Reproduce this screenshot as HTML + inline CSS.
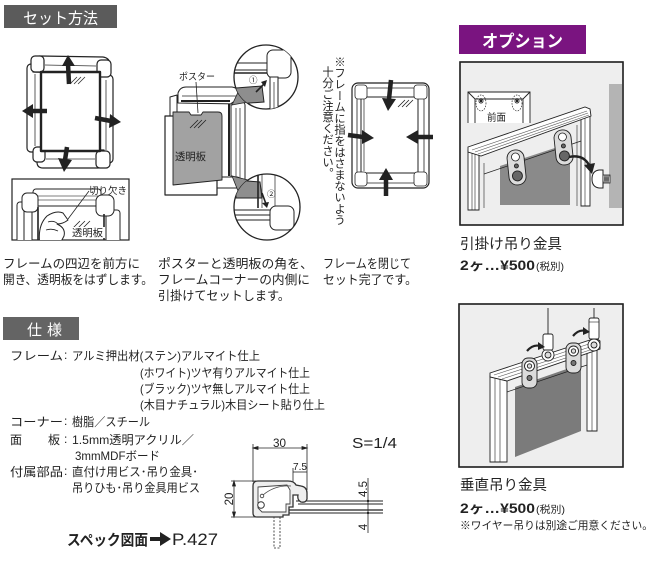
<!DOCTYPE html>
<html><head><meta charset="utf-8">
<style>
html,body{margin:0;padding:0;background:#fff;}
body{width:658px;height:562px;position:relative;overflow:hidden;font-family:"Liberation Sans","Noto Sans CJK JP",sans-serif;}
svg{position:absolute;left:0;top:0;}
.v{position:absolute;writing-mode:vertical-rl;font-size:11.3px;line-height:12px;color:#222;font-family:"Liberation Sans","Noto Sans CJK JP",sans-serif;white-space:nowrap;}
</style></head><body>
<svg width="658" height="562" viewBox="0 0 658 562" font-family="'Liberation Sans','Noto Sans CJK JP',sans-serif">
<defs>
 <clipPath id="c1"><rect x="12" y="179" width="117" height="61"/></clipPath>
 <clipPath id="c2"><rect x="460" y="62" width="163" height="163"/></clipPath>
 <clipPath id="c3"><rect x="459" y="304" width="164" height="163"/></clipPath>
 <clipPath id="ct"><circle cx="266" cy="77" r="32"/></clipPath>
 <clipPath id="cb"><circle cx="267" cy="207" r="33"/></clipPath>
</defs>

<!-- Headers -->
<rect x="4" y="5" width="113" height="23" fill="#5b5b5b"/>
<text x="23" y="23.5" font-size="15.5" fill="#fff" textLength="75" lengthAdjust="spacingAndGlyphs">セット方法</text>
<rect x="459" y="25" width="127" height="29" fill="#7a1480"/>
<text x="482" y="47" font-size="17" font-weight="bold" fill="#fff" textLength="81" lengthAdjust="spacingAndGlyphs">オプション</text>
<rect x="3" y="317" width="76" height="23" fill="#646464"/>
<text x="27" y="335" font-size="15" fill="#fff">仕</text>
<text x="47" y="335" font-size="15" fill="#fff">様</text>

<!-- ===== Frame 1 ===== -->
<g stroke="#222" fill="#fff" stroke-width="1.2" stroke-linejoin="round">
 <rect x="27" y="64" width="14" height="88" rx="4"/>
 <rect x="99" y="75" width="14" height="88" rx="4"/>
 <path d="M33,72 L33,62 Q33,56 40,56 L103,57 Q110,58 110,65 L110,74 Z"/>
 <path d="M37,150 L104,150 L104,162 Q104,168 98,168 L43,168 Q37,168 37,162 Z"/>
 <rect x="31" y="56" width="13" height="16" rx="4"/>
 <rect x="97" y="60" width="14" height="17" rx="4"/>
 <rect x="33" y="147" width="12" height="15" rx="4"/>
 <rect x="96" y="151" width="14" height="17" rx="4"/>
 <rect x="41" y="72" width="59" height="79" stroke-width="2.4"/>
</g>
<g stroke="#333" stroke-width="0.8" fill="none">
 <line x1="35" y1="74" x2="35" y2="146"/>
 <line x1="106" y1="80" x2="106" y2="150"/>
 <line x1="45" y1="65" x2="96" y2="66"/>
 <line x1="46" y1="159" x2="95" y2="159"/>
 <path d="M70,84 l7,-7 M74,84 l7,-7 M78,84 l7,-7"/>
</g>
<g fill="#222" stroke="#222">
 <line x1="69" y1="84" x2="68" y2="64" stroke-width="4.5"/>
 <polygon points="62,66 75,66 68,55" stroke="none"/>
 <line x1="47" y1="111" x2="32" y2="111" stroke-width="4.5"/>
 <polygon points="33,104 33,118 22,111" stroke="none"/>
 <line x1="95" y1="118" x2="111" y2="121" stroke-width="4.5"/>
 <polygon points="110,114 109,128 121,122" stroke="none"/>
 <line x1="67" y1="147" x2="65" y2="160" stroke-width="4.5"/>
 <polygon points="58,158 72,160 64,172" stroke="none"/>
</g>

<!-- Inset box -->
<rect x="12" y="179" width="117" height="61" fill="#fff" stroke="#222" stroke-width="1.2"/>
<g clip-path="url(#c1)" stroke="#222" stroke-width="1" fill="#fff" stroke-linejoin="round">
 <rect x="17" y="202" width="15" height="45" rx="3"/>
 <line x1="24" y1="206" x2="24" y2="245"/>
 <rect x="33" y="189" width="68" height="17" rx="3"/>
 <line x1="36" y1="196" x2="99" y2="196" stroke="#555" stroke-width="0.7"/>
 <line x1="36" y1="200" x2="99" y2="200" stroke="#555" stroke-width="0.7"/>
 <rect x="22" y="193" width="16" height="19" rx="5"/>
 <rect x="106" y="210" width="14" height="40" rx="3"/>
 <rect x="96" y="195" width="18" height="21" rx="6"/>
 <line x1="38" y1="207" x2="38" y2="245" stroke-width="1.6"/>
 <line x1="104" y1="214" x2="104" y2="245" stroke-width="1.6"/>
 <path d="M40,245 Q37,226 47,216 Q56,210 63,213 L68,220 Q63,224 57,224 Q66,228 64,236 Q60,244 58,245 Z"/>
 <path d="M48,222 Q54,220 58,224 M46,230 Q52,228 58,231" fill="none" stroke-width="0.8"/>
 <path d="M72,229 l8,-8 M77,229 l8,-8 M82,229 l8,-8" fill="none" stroke-width="0.8"/>
 <line x1="89" y1="191" x2="68" y2="219" stroke-width="0.8"/>
</g>
<text x="89" y="194" font-size="9.5" fill="#222" textLength="38" lengthAdjust="spacingAndGlyphs">切り欠き</text>
<rect x="71" y="227" width="34" height="11" fill="#fff"/>
<text x="72" y="236.5" font-size="10" fill="#222" textLength="31" lengthAdjust="spacingAndGlyphs">透明板</text>

<!-- ===== Middle illustration ===== -->
<g stroke="#222" stroke-width="1" fill="#fff" stroke-linejoin="round">
 <path d="M170,97 L177,95 L177,190 L170,192 Z"/>
 <path d="M178,103 L178,93 Q180,87 186,87 L232,87 Q239,88 241,95 L241,104 Z"/>
 <line x1="182" y1="96" x2="238" y2="96" stroke-width="0.7"/>
 <rect x="231" y="102" width="14" height="82" rx="3"/>
 <line x1="236" y1="108" x2="236" y2="178" stroke-width="0.7"/>
 <line x1="240" y1="108" x2="240" y2="178" stroke-width="0.7"/>
 <rect x="212" y="177" width="28" height="11" rx="3"/>
 <line x1="181" y1="101" x2="230" y2="101" stroke-width="2"/>
 <line x1="229" y1="104" x2="229" y2="176" stroke-width="2"/>
 <rect x="165" y="116" width="52" height="79" stroke-width="1.2"/>
 <path d="M173,112 L189,112 L191,115 L201,115 L203,112 L218,112 Q222,112 222,116 L222,180 L173,185 Z" fill="#a2a2a2" stroke-width="0.9"/>
 <path d="M190,128 l8,-8 M194,128 l8,-8 M198,128 l8,-8" fill="none" stroke-width="0.8"/>
 <line x1="196" y1="82" x2="198" y2="113" stroke-width="0.8"/>
</g>
<text x="179" y="80" font-size="9.5" fill="#222" textLength="36" lengthAdjust="spacingAndGlyphs">ポスター</text>
<text x="175" y="160" font-size="10.5" fill="#222" textLength="31" lengthAdjust="spacingAndGlyphs">透明板</text>
<!-- callout pointers -->
<polygon points="232,105 240,88 262,88 262,100 248,102" fill="#8e8e8e" stroke="#222" stroke-width="0.8"/>
<polygon points="232,176 240,196 262,197 262,182 248,180" fill="#8e8e8e" stroke="#222" stroke-width="0.8"/>
<!-- top circle -->
<circle cx="266" cy="77" r="32" fill="#fff" stroke="#222" stroke-width="1.3"/>
<g clip-path="url(#ct)" stroke="#222" stroke-width="1" fill="#fff">
 <line x1="232" y1="63" x2="272" y2="63"/>
 <line x1="232" y1="70" x2="272" y2="70"/>
 <line x1="232" y1="73" x2="272" y2="73" stroke-width="1.6"/>
 <rect x="267" y="50" width="24" height="28" rx="6"/>
 <rect x="270" y="77" width="8" height="40"/>
 <line x1="274" y1="82" x2="274" y2="110" stroke-width="0.7"/>
 <polygon points="236,88 262,86 264,102 236,104" fill="#8e8e8e"/>
 <path d="M256,92 L265,83" stroke-width="1.6"/>
 <polygon points="261,82 267,80 265,87" fill="#222" stroke="none"/>
</g>
<text x="249" y="83" font-size="8.5" fill="#222">①</text>
<!-- bottom circle -->
<circle cx="267" cy="207" r="33" fill="#fff" stroke="#222" stroke-width="1.3"/>
<g clip-path="url(#cb)" stroke="#222" stroke-width="1" fill="#fff">
 <polygon points="236,180 260,182 262,198 236,198" fill="#8e8e8e"/>
 <line x1="258" y1="172" x2="258" y2="208" stroke-width="1.6"/>
 <line x1="262" y1="172" x2="262" y2="208" stroke-width="0.7"/>
 <line x1="275" y1="172" x2="275" y2="210" stroke-width="0.7"/>
 <line x1="232" y1="210" x2="274" y2="210"/>
 <line x1="232" y1="215" x2="274" y2="215"/>
 <line x1="232" y1="220" x2="274" y2="220"/>
 <rect x="270" y="206" width="24" height="24" rx="6"/>
 <path d="M262,193 L266,204" stroke-width="1.6"/>
 <polygon points="262,203 269,202 267,208" fill="#222" stroke="none"/>
</g>
<text x="267" y="197" font-size="8.5" fill="#222">②</text>

<!-- ===== Frame 3 ===== -->
<g stroke="#222" fill="#fff" stroke-width="1.2" stroke-linejoin="round">
 <rect x="352" y="83" width="77" height="105" rx="6"/>
 <rect x="357" y="88" width="67" height="95" rx="3" stroke-width="0.8"/>
 <rect x="361" y="97" width="57" height="76" stroke-width="1"/>
 <rect x="355" y="85" width="12" height="14" rx="3" stroke-width="0.8"/>
 <rect x="414" y="85" width="13" height="14" rx="3" stroke-width="0.8"/>
 <rect x="355" y="172" width="12" height="14" rx="3" stroke-width="0.8"/>
 <rect x="414" y="172" width="13" height="14" rx="3" stroke-width="0.8"/>
 <line x1="364" y1="99" x2="364" y2="171" stroke-width="0.7"/>
 <path d="M398,107 l7,-7 M402,107 l7,-7 M406,107 l7,-7" fill="none" stroke-width="0.8"/>
</g>
<g fill="#222" stroke="#222">
 <line x1="391" y1="80" x2="389" y2="99" stroke-width="4.5"/>
 <polygon points="382,98 396,99 388,111" stroke="none"/>
 <line x1="348" y1="135" x2="363" y2="137" stroke-width="4.5"/>
 <polygon points="362,130 362,144 374,138" stroke="none"/>
 <line x1="433" y1="137" x2="417" y2="137" stroke-width="4.5"/>
 <polygon points="418,130 418,144 406,137" stroke="none"/>
 <line x1="386" y1="196" x2="386" y2="178" stroke-width="4.5"/>
 <polygon points="379,180 393,180 386,168" stroke="none"/>
</g>

<!-- ===== Paragraphs ===== -->
<g font-size="12.5" fill="#222">
 <text x="3" y="268" textLength="137" lengthAdjust="spacingAndGlyphs">フレームの四辺を前方に</text>
 <text x="3" y="284" textLength="150" lengthAdjust="spacingAndGlyphs">開き、透明板をはずします。</text>
 <text x="158" y="268" textLength="155" lengthAdjust="spacingAndGlyphs">ポスターと透明板の角を、</text>
 <text x="158" y="284" textLength="152" lengthAdjust="spacingAndGlyphs">フレームコーナーの内側に</text>
 <text x="158" y="300" textLength="132" lengthAdjust="spacingAndGlyphs">引掛けてセットします。</text>
 <text x="323" y="268" textLength="88" lengthAdjust="spacingAndGlyphs">フレームを閉じて</text>
 <text x="323" y="284" textLength="94" lengthAdjust="spacingAndGlyphs">セット完了です。</text>
</g>

<!-- ===== Spec ===== -->
<g font-size="12" fill="#222">
 <text x="10" y="360" textLength="53" lengthAdjust="spacingAndGlyphs">フレーム</text>
 <text x="64" y="359">:</text>
 <text x="72" y="360" textLength="188" lengthAdjust="spacingAndGlyphs">アルミ押出材(ステン)アルマイト仕上</text>
 <text x="140" y="377" textLength="170" lengthAdjust="spacingAndGlyphs">(ホワイト)ツヤ有りアルマイト仕上</text>
 <text x="140" y="393" textLength="170" lengthAdjust="spacingAndGlyphs">(ブラック)ツヤ無しアルマイト仕上</text>
 <text x="140" y="409" textLength="185" lengthAdjust="spacingAndGlyphs">(木目ナチュラル)木目シート貼り仕上</text>
 <text x="10" y="426" textLength="53" lengthAdjust="spacingAndGlyphs">コーナー</text>
 <text x="64" y="425">:</text>
 <text x="72" y="426" textLength="78" lengthAdjust="spacingAndGlyphs">樹脂／スチール</text>
 <text x="10" y="444">面</text>
 <text x="48" y="444">板</text>
 <text x="64" y="443">:</text>
 <text x="72" y="444" textLength="122" lengthAdjust="spacingAndGlyphs">1.5mm透明アクリル／</text>
 <text x="75" y="460" textLength="85" lengthAdjust="spacingAndGlyphs">3mmMDFボード</text>
 <text x="10" y="476" textLength="53" lengthAdjust="spacingAndGlyphs">付属部品</text>
 <text x="64" y="475">:</text>
 <text x="72" y="476" textLength="126" lengthAdjust="spacingAndGlyphs">直付け用ビス･吊り金具･</text>
 <text x="72" y="492" textLength="128" lengthAdjust="spacingAndGlyphs">吊りひも･吊り金具用ビス</text>
</g>
<text x="67" y="545" font-size="15" font-weight="bold" fill="#222" textLength="81" lengthAdjust="spacingAndGlyphs">スペック図面</text>
<polygon points="150,537 160,537 160,532 171,539 160,546 160,541 150,541" fill="#222"/>
<text x="172" y="545" font-size="16.5" fill="#222" textLength="46" lengthAdjust="spacingAndGlyphs">P.427</text>

<!-- ===== Cross section ===== -->
<g stroke="#222" stroke-width="0.8" fill="none">
 <line x1="253" y1="448" x2="307" y2="448"/>
 <polygon points="253,448 258,446.5 258,449.5" fill="#222"/>
 <polygon points="307,448 302,446.5 302,449.5" fill="#222"/>
 <line x1="253" y1="444" x2="253" y2="482"/>
 <line x1="307" y1="444" x2="307" y2="490"/>
 <line x1="293" y1="472" x2="307" y2="472"/>
 <line x1="293" y1="468" x2="293" y2="486"/>
 <line x1="234" y1="481" x2="234" y2="517"/>
 <polygon points="234,481 232.5,486 235.5,486" fill="#222"/>
 <polygon points="234,517 232.5,512 235.5,512" fill="#222"/>
 <line x1="231" y1="481" x2="256" y2="481"/>
 <line x1="231" y1="517" x2="262" y2="517"/>
 <line x1="368" y1="478" x2="368" y2="533"/>
 <line x1="296" y1="501" x2="383" y2="501" stroke-width="1"/>
 <line x1="298" y1="504" x2="383" y2="504" stroke-width="1"/>
 <line x1="288" y1="510" x2="383" y2="510" stroke-width="1.2"/>
 <line x1="288" y1="513" x2="383" y2="513" stroke-width="1"/>
 <rect x="274" y="509" width="6" height="39" stroke-dasharray="2,1.5"/>
</g>
<circle cx="368" cy="501" r="1.2" fill="#222"/>
<circle cx="368" cy="513" r="1.2" fill="#222"/>
<path d="M253,486 Q253,481 258,481 L288,481 Q294,481 296,485 L301,486 Q307,487 307,493 L307,499 Q306,503 301,502 Q297,500 298,495 L293,495 L293,507 L289,507 L289,515 L283,515 L283,517 L257,517 Q253,517 253,513 Z" fill="#eee" stroke="#333" stroke-width="1.3"/>
<path d="M258,487 L287,485 L290,490 L290,504 L286,504 L286,512 L262,512 L258,508 Z" fill="#fff" stroke="#444" stroke-width="0.9"/>
<path d="M263,495 Q275,485 291,486" fill="none" stroke="#444" stroke-width="0.8"/>
<circle cx="261" cy="505" r="3.3" fill="#fff" stroke="#333" stroke-width="1"/>
<circle cx="262" cy="496" r="1.8" fill="#fff" stroke="#333" stroke-width="0.8"/>
<g font-size="12" fill="#222">
 <text x="273" y="447" textLength="13" lengthAdjust="spacingAndGlyphs">30</text>
 <text x="293" y="470" font-size="10" textLength="14" lengthAdjust="spacingAndGlyphs">7.5</text>
 <text transform="translate(233,499) rotate(-90)" text-anchor="middle" font-size="11.5">20</text>
 <text transform="translate(367,489) rotate(-90)" text-anchor="middle" font-size="11.5">4.5</text>
 <text transform="translate(367,527) rotate(-90)" text-anchor="middle" font-size="11.5">4</text>
 <text x="352" y="448" font-size="15" textLength="45" lengthAdjust="spacingAndGlyphs">S=1/4</text>
</g>

<!-- ===== Option box 1 ===== -->
<rect x="460" y="62" width="163" height="163" fill="#eeeeee" stroke="#222" stroke-width="1.4"/>
<g clip-path="url(#c2)">
 <rect x="609" y="84" width="13" height="124" fill="#b4b4b4"/>
 <rect x="468" y="92" width="62" height="31" fill="#fff"/>
 <g stroke="#222" stroke-width="0.9" fill="none">
  <path d="M468,123 L468,92 L530,92 L530,123"/>
  <path d="M468,92 L475,99 L523,99 L530,92 M475,99 L475,123 M523,99 L523,123"/>
  <ellipse cx="481" cy="103" rx="5" ry="8" stroke-dasharray="1.5,1.2" stroke-width="0.7"/>
  <ellipse cx="517" cy="103" rx="5" ry="8" stroke-dasharray="1.5,1.2" stroke-width="0.7"/>
  <path d="M478,101 l6,0 M481,98 l0,6 M479,99 l4,4 M483,99 l-4,4 M514,101 l6,0 M517,98 l0,6 M515,99 l4,4 M519,99 l-4,4" stroke-width="0.8"/>
 </g>
 <text x="487" y="121" font-size="10" fill="#222" textLength="19" lengthAdjust="spacingAndGlyphs">前面</text>
 <path d="M500,166 L570,143 L570,205 L500,205 Z" fill="#8a8a8a"/>
 <g stroke="#222" stroke-width="0.9" fill="#fff">
  <path d="M468,150 L479,155 L479,210 L468,210 Z"/>
  <line x1="472" y1="152" x2="472" y2="210" stroke-width="0.6"/>
  <line x1="475" y1="153" x2="475" y2="210" stroke-width="0.6"/>
  <path d="M581,114 L590,111 L590,206 L581,206 Z"/>
  <line x1="585" y1="113" x2="585" y2="206" stroke-width="0.6"/>
  <line x1="484" y1="174" x2="581" y2="141" fill="none" stroke-width="0.7"/>
  <line x1="484" y1="163" x2="484" y2="208" stroke-width="0.6"/>
  <line x1="577" y1="125" x2="577" y2="206" stroke-width="0.6"/>
  <path d="M468,147 L585,107 L590,109 L591,116 L481,156 L468,152 Z"/>
  <line x1="472" y1="150" x2="587" y2="111" stroke="#555" stroke-width="0.6"/>
  <line x1="475" y1="152" x2="588" y2="113" stroke="#555" stroke-width="0.6"/>
  <line x1="478" y1="154" x2="589" y2="115" stroke="#555" stroke-width="0.6"/>
 </g>
 <g transform="rotate(-6 516 167)" stroke="#222" stroke-width="0.9">
  <rect x="508" y="150" width="17" height="35" rx="8" fill="#dcdcdc"/>
  <circle cx="516.5" cy="157" r="4" fill="#fff" stroke-width="0.8"/>
  <circle cx="516.5" cy="166" r="2" fill="#666"/>
  <circle cx="516.5" cy="176" r="5" fill="#666"/>
 </g>
 <g transform="rotate(-6 563 147)" stroke="#222" stroke-width="0.9">
  <rect x="555" y="130" width="17" height="35" rx="8" fill="#dcdcdc"/>
  <circle cx="563.5" cy="137" r="4" fill="#fff" stroke-width="0.8"/>
  <circle cx="563.5" cy="146" r="2" fill="#666"/>
  <circle cx="563.5" cy="156" r="5" fill="#666"/>
 </g>
 <path d="M569,157 Q583,154 589,165" fill="none" stroke="#222" stroke-width="2.4"/>
 <polygon points="584,165 595,163 592,174" fill="#222"/>
 <path d="M603,170 L599,170 Q592,171 592,179 Q592,187 599,188 L603,188 Z" fill="#fff" stroke="#222" stroke-width="1"/>
 <rect x="603" y="175" width="7" height="8" fill="#fff" stroke="#222" stroke-width="0.8"/>
 <path d="M604,183 l1,-8 l1,8 l1,-8 l1,8 l1,-8" fill="none" stroke="#222" stroke-width="0.7"/>
</g>
<rect x="460" y="62" width="163" height="163" fill="none" stroke="#222" stroke-width="1.4"/>
<text x="460" y="249" font-size="14.5" fill="#222" textLength="102" lengthAdjust="spacingAndGlyphs">引掛け吊り金具</text>
<text x="460" y="270" font-size="13.5" font-weight="bold" fill="#222" textLength="75" lengthAdjust="spacingAndGlyphs">2ヶ…¥500</text>
<text x="536" y="270" font-size="10" fill="#222" textLength="28" lengthAdjust="spacingAndGlyphs">(税別)</text>

<!-- ===== Option box 2 ===== -->
<rect x="459" y="304" width="164" height="163" fill="#eeeeee" stroke="#222" stroke-width="1.4"/>
<g clip-path="url(#c3)">
 <path d="M515,387 L581,364 L581,431 L515,457 Z" fill="#7b7b7b"/>
 <g stroke="#222" stroke-width="0.9" fill="#fff">
  <path d="M490,376 L507,381 L507,462 L490,462 Z"/>
  <line x1="495" y1="378" x2="495" y2="462" stroke-width="0.6"/>
  <line x1="500" y1="379" x2="500" y2="462" stroke-width="0.6"/>
  <path d="M587,345 L597,342 L597,431 L587,431 Z"/>
  <line x1="592" y1="343" x2="592" y2="431" stroke-width="0.6"/>
  <line x1="507" y1="392" x2="587" y2="365" stroke-width="0.7"/>
  <path d="M490,373 L596,338 L600,341 L600,349 L507,381 L490,377 Z"/>
  <line x1="494" y1="375" x2="598" y2="341" stroke="#555" stroke-width="0.6"/>
  <line x1="498" y1="377" x2="599" y2="344" stroke="#555" stroke-width="0.6"/>
  <line x1="502" y1="379" x2="599" y2="347" stroke="#555" stroke-width="0.6"/>
 </g>
 <g stroke="#222" stroke-width="0.9">
  <line x1="548" y1="308" x2="548" y2="334"/>
  <line x1="594" y1="308" x2="594" y2="319"/>
  <rect x="522" y="358" width="15" height="30" rx="6" fill="#dcdcdc"/>
  <circle cx="529.5" cy="366" r="5" fill="#fff"/>
  <circle cx="529.5" cy="366" r="2.2" fill="#dcdcdc"/>
  <circle cx="529.5" cy="378" r="2.5" fill="#777"/>
  <rect x="566" y="343" width="15" height="30" rx="6" fill="#dcdcdc"/>
  <circle cx="573.5" cy="351" r="5" fill="#fff"/>
  <circle cx="573.5" cy="351" r="2.2" fill="#dcdcdc"/>
  <circle cx="573.5" cy="363" r="2.5" fill="#777"/>
  <circle cx="548" cy="355" r="6" fill="#fff"/>
  <circle cx="548" cy="355" r="3" fill="#dcdcdc"/>
  <rect x="543" y="334" width="10" height="16" rx="2" fill="#fff"/>
  <circle cx="594" cy="345" r="6" fill="#fff"/>
  <circle cx="594" cy="345" r="3" fill="#dcdcdc"/>
  <rect x="589" y="318" width="10" height="21" rx="2" fill="#fff"/>
  <line x1="589" y1="322" x2="599" y2="322" stroke-width="0.6"/>
 </g>
 <path d="M527,351 Q533,344 540,346" fill="none" stroke="#222" stroke-width="2.2"/>
 <polygon points="538,342 545,347 538,350" fill="#222"/>
 <path d="M573,336 Q579,329 585,331" fill="none" stroke="#222" stroke-width="2.2"/>
 <polygon points="583,327 590,332 583,335" fill="#222"/>
</g>
<rect x="459" y="304" width="164" height="163" fill="none" stroke="#222" stroke-width="1.4"/>
<text x="460" y="490" font-size="14.5" fill="#222" textLength="87" lengthAdjust="spacingAndGlyphs">垂直吊り金具</text>
<text x="460" y="513" font-size="13.5" font-weight="bold" fill="#222" textLength="75" lengthAdjust="spacingAndGlyphs">2ヶ…¥500</text>
<text x="536" y="513" font-size="10" fill="#222" textLength="29" lengthAdjust="spacingAndGlyphs">(税別)</text>
<text x="460" y="529" font-size="10.8" fill="#222" textLength="193" lengthAdjust="spacingAndGlyphs">※ワイヤー吊りは別途ご用意ください。</text>
</svg>
<div class="v" style="left:333px;top:56px;">※フレームに指をはさまないよう</div>
<div class="v" style="left:321px;top:66px;">十分ご注意ください。</div>
</body></html>
